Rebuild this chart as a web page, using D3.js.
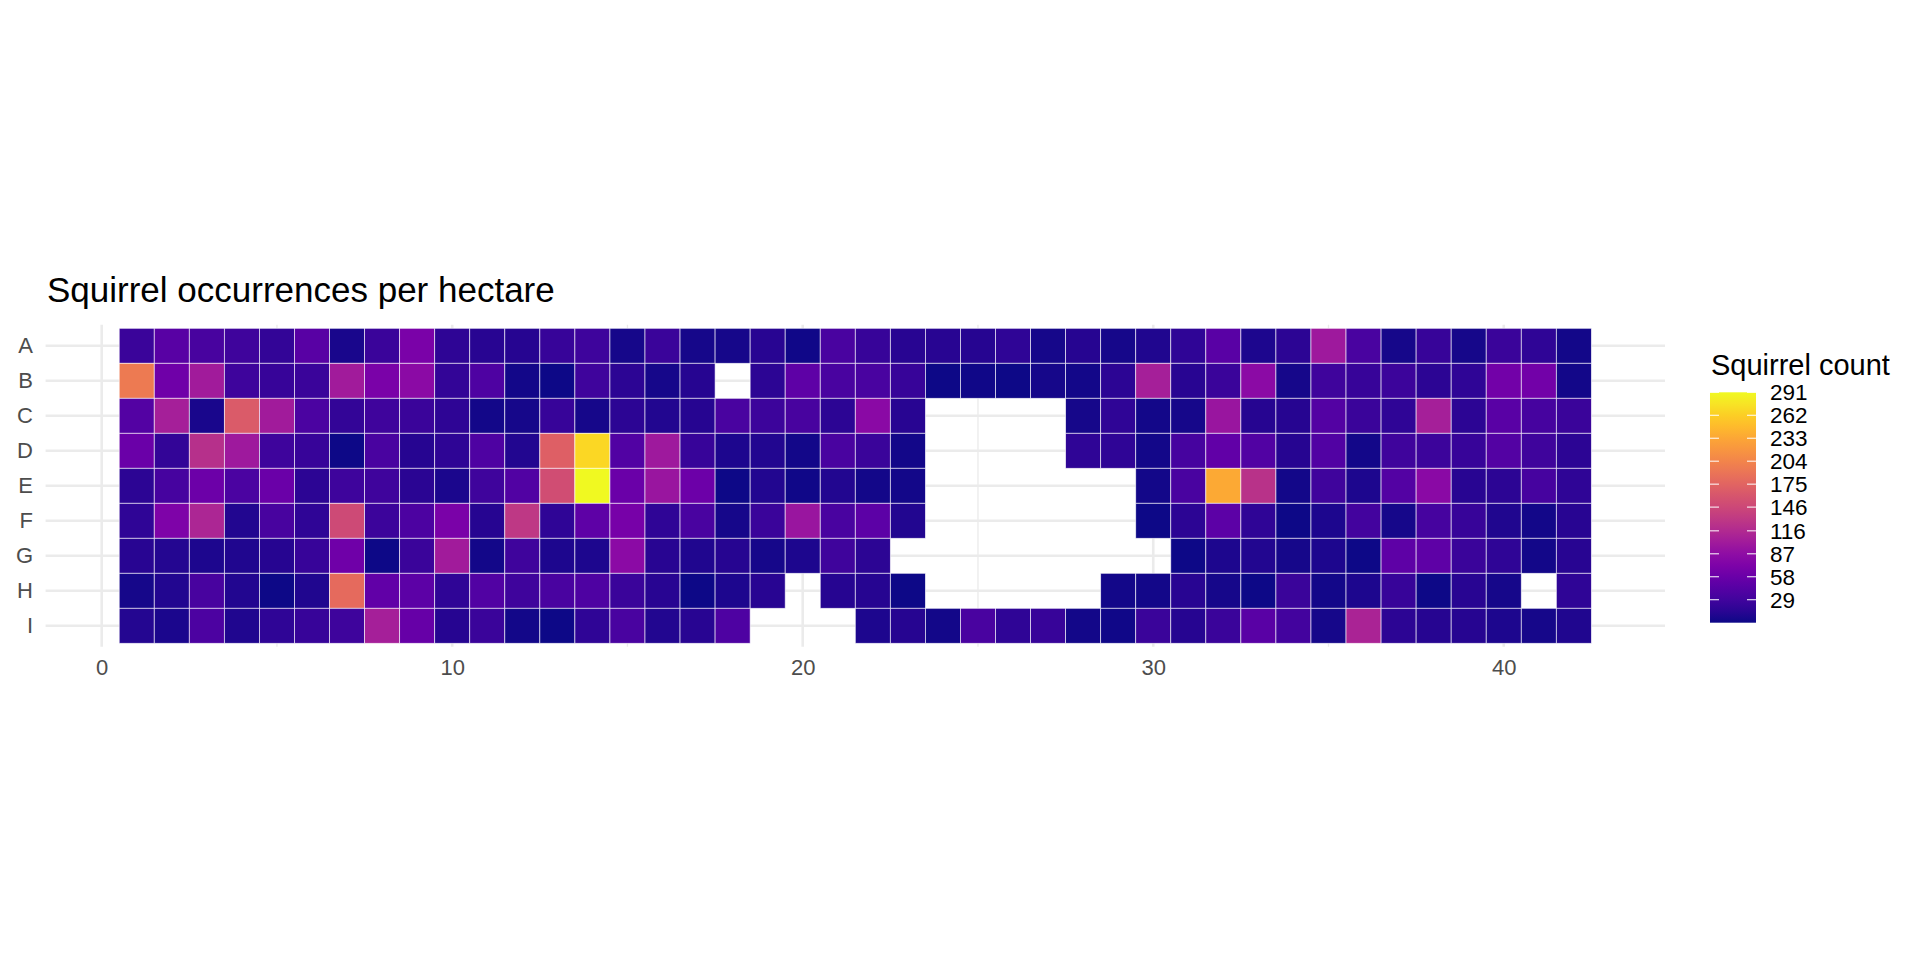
<!DOCTYPE html>
<html lang="en">
<head>
  <meta charset="UTF-8">
  <title>Squirrel occurrences per hectare</title>
  <script src="https://cdn.jsdelivr.net/npm/d3@7"></script>
  <style>
    body { margin: 0; background: #fff; }
    text { font-family: "Liberation Sans", Arial, sans-serif; }
  </style>
</head>
<body>
  <svg width="1920" height="960"></svg>
  <script>
    // row labels (hectare rows) and column numbers
    var rows = ["A", "B", "C", "D", "E", "F", "G", "H", "I"];
    var cols = d3.range(1, 43);
    var xTicks = [0, 10, 20, 30, 40];
    var xMinor = [5, 15, 25, 35];
    var legendBreaks = [29, 58, 87, 116, 146, 175, 204, 233, 262, 291];

    // squirrel counts per hectare, one list per row, null = no data
    var rowA = [25, 45, 33, 28, 20, 45, 5, 24, 70, 17, 13, 12, 22, 27, 4, 24, 4, 4, 13, 2, 35, 22, 13, 13, 12, 18, 4, 12, 4, 8, 18, 46, 7, 15, 100, 35, 4, 22, 4, 25, 18, 3];
    var rowB = [195, 62, 102, 27, 22, 24, 102, 70, 84, 20, 38, 3, 1, 28, 15, 4, 12, null, 15, 49, 35, 35, 22, 1, 2, 1, 4, 3, 15, 105, 13, 25, 84, 4, 28, 22, 26, 15, 18, 64, 64, 3];
    var rowC = [42, 105, 5, 165, 102, 36, 20, 28, 25, 17, 3, 4, 22, 4, 15, 10, 12, 35, 26, 33, 15, 82, 13, null, null, null, null, 4, 18, 3, 4, 95, 12, 12, 42, 25, 18, 105, 15, 46, 32, 25];
    var rowD = [58, 20, 122, 100, 27, 22, 1, 35, 12, 17, 38, 10, 170, 268, 40, 100, 22, 7, 10, 3, 35, 25, 3, null, null, null, null, 18, 18, 3, 32, 52, 40, 12, 40, 3, 28, 26, 22, 42, 28, 15];
    var rowE = [15, 32, 60, 36, 58, 15, 27, 28, 14, 6, 28, 40, 152, 291, 58, 95, 60, 1, 10, 2, 10, 3, 3, null, null, null, null, null, null, 3, 35, 235, 125, 3, 28, 7, 42, 82, 13, 15, 32, 18];
    var rowF = [18, 73, 112, 10, 33, 18, 148, 26, 37, 70, 12, 130, 18, 49, 68, 18, 35, 4, 24, 95, 35, 48, 10, null, null, null, null, null, null, 1, 15, 48, 18, 1, 7, 30, 4, 32, 22, 8, 3, 13];
    var rowG = [13, 11, 7, 9, 12, 22, 62, 1, 24, 102, 3, 28, 7, 7, 84, 13, 9, 12, 4, 7, 28, 15, null, null, null, null, null, null, null, null, 1, 7, 10, 4, 7, 1, 50, 50, 25, 18, 3, 13];
    var rowH = [4, 10, 34, 10, 0, 9, 180, 52, 48, 18, 40, 28, 35, 38, 24, 13, 1, 7, 13, null, 12, 12, 1, null, null, null, null, null, 3, 3, 13, 4, 1, 25, 3, 7, 22, 1, 13, 4, null, 18];
    var rowI = [11, 6, 37, 9, 18, 22, 27, 105, 55, 12, 25, 3, 1, 18, 35, 10, 13, 38, null, null, null, 7, 12, 3, 35, 18, 22, 3, 2, 25, 12, 25, 46, 30, 4, 110, 15, 12, 12, 7, 4, 8];
    var counts = [rowA, rowB, rowC, rowD, rowE, rowF, rowG, rowH, rowI];

    // 1. flatten into cells
    var cells = [];
    counts.forEach(function(r, i) {
      r.forEach(function(v, j) {
        if (v !== null) cells.push({row: rows[i], col: cols[j], n: v});
      });
    });

    var svg = d3.select("svg");

    // 2. scales: continuous x with ggplot-like padding, discrete y
    var xScale = d3.scaleLinear().domain([-1.6, 44.6]).range([45.6, 1665]);
    var yScale = d3.scaleBand().domain(rows).range([324.8, 646.8]).paddingInner(0).paddingOuter(0.1);
    var color = d3.scaleSequential(d3.interpolatePlasma).domain(d3.extent(cells, function(d){ return d.n }));
    var step = xScale(1) - xScale(0);

    // 3. grid lines
    var grid = svg.append("g");
    grid.selectAll(".minor").data(xMinor).enter().append("line")
      .attr("x1", function(d){ return xScale(d) }).attr("x2", function(d){ return xScale(d) })
      .attr("y1", 324.8).attr("y2", 646.8)
      .attr("stroke", "#ebebeb").attr("stroke-width", 1.3);
    grid.selectAll(".major").data(xTicks).enter().append("line")
      .attr("x1", function(d){ return xScale(d) }).attr("x2", function(d){ return xScale(d) })
      .attr("y1", 324.8).attr("y2", 646.8)
      .attr("stroke", "#ebebeb").attr("stroke-width", 2.6);
    grid.selectAll(".hrow").data(rows).enter().append("line")
      .attr("x1", 45.6).attr("x2", 1665)
      .attr("y1", function(d){ return yScale(d) + yScale.bandwidth() / 2 })
      .attr("y2", function(d){ return yScale(d) + yScale.bandwidth() / 2 })
      .attr("stroke", "#ebebeb").attr("stroke-width", 2.6);

    // 4. tiles
    svg.append("g").selectAll("rect").data(cells).enter().append("rect")
      .attr("x", function(d){ return xScale(d.col - 0.5) })
      .attr("y", function(d){ return yScale(d.row) })
      .attr("width", step)
      .attr("height", yScale.bandwidth())
      .attr("fill", function(d){ return color(d.n) })
      .attr("stroke", "#ffffff")
      .attr("stroke-opacity", 0.75)
      .attr("stroke-width", 0.8);

    // 5. axis labels
    var xAxis = d3.axisBottom(xScale).tickValues(xTicks).tickSize(0).tickPadding(0);
    var gx = svg.append("g").attr("transform", "translate(0,659)").call(xAxis);
    gx.select(".domain").remove();
    gx.selectAll("text").attr("fill", "#4d4d4d").attr("font-size", 22)
      .attr("font-family", "Liberation Sans, Arial, sans-serif");

    var yAxis = d3.axisLeft(yScale).tickSize(0).tickPadding(0);
    var gy = svg.append("g").attr("transform", "translate(33,0)").call(yAxis);
    gy.select(".domain").remove();
    gy.selectAll("text").attr("fill", "#4d4d4d").attr("font-size", 22)
      .attr("font-family", "Liberation Sans, Arial, sans-serif");

    // 6. title
    svg.append("text").attr("x", 47).attr("y", 302)
      .attr("font-size", 35).attr("fill", "#000")
      .text("Squirrel occurrences per hectare");

    // 7. colour bar legend
    var barX = 1710, barW = 46, barTop = 392.3, barBottom = 622.7;
    var defs = svg.append("defs");
    var grad = defs.append("linearGradient").attr("id", "plasmaBar")
      .attr("x1", 0).attr("y1", 1).attr("x2", 0).attr("y2", 0);
    d3.range(0, 1.01, 0.05).forEach(function(t) {
      grad.append("stop").attr("offset", t).attr("stop-color", d3.interpolatePlasma(t));
    });
    var legendScale = d3.scaleLinear().domain(color.domain()).range([barBottom, barTop]);

    svg.append("text").attr("x", 1711).attr("y", 375)
      .attr("font-size", 29).attr("fill", "#000").text("Squirrel count");
    svg.append("rect").attr("x", barX).attr("y", barTop)
      .attr("width", barW).attr("height", barBottom - barTop)
      .attr("fill", "url(#plasmaBar)");

    var lg = svg.append("g").selectAll(".tick").data(legendBreaks).enter().append("g");
    lg.append("line")
      .attr("x1", barX).attr("x2", barX + 9)
      .attr("y1", function(d){ return legendScale(d) }).attr("y2", function(d){ return legendScale(d) })
      .attr("stroke", "#fff").attr("stroke-width", 1);
    lg.append("line")
      .attr("x1", barX + barW - 9).attr("x2", barX + barW)
      .attr("y1", function(d){ return legendScale(d) }).attr("y2", function(d){ return legendScale(d) })
      .attr("stroke", "#fff").attr("stroke-width", 1);
    lg.append("text")
      .attr("x", 1770)
      .attr("y", function(d){ return legendScale(d) })
      .attr("dy", "0.35em")
      .attr("font-size", 22.5).attr("fill", "#000")
      .text(function(d){ return d });
  </script>
</body>
</html>
